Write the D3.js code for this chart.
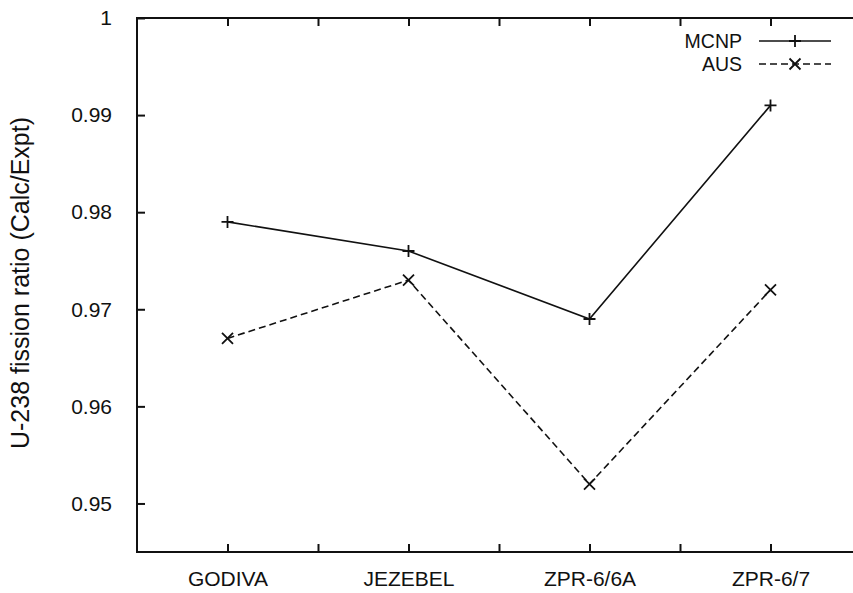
<!DOCTYPE html>
<html>
<head>
<meta charset="utf-8">
<script src="https://cdn.jsdelivr.net/npm/d3@7"></script>
<style>
  body { margin: 0; background: #fff; }
  text { font-family: "Liberation Sans", Arial, sans-serif; fill: #111; }
</style>
</head>
<body>
<svg width="853" height="593"></svg>
<script>
var categories = ["GODIVA", "JEZEBEL", "ZPR-6/6A", "ZPR-6/7"];
var mcnp = [0.979, 0.976, 0.969, 0.991];
var aus = [0.967, 0.973, 0.952, 0.972];
var yTicks = [0.95, 0.96, 0.97, 0.98, 0.99, 1];
var yTickLabels = ["0.95", "0.96", "0.97", "0.98", "0.99", "1"];
var xMinorTicks = [1, 1.5, 2, 2.5, 3, 3.5, 4];

var svg = d3.select("svg");

var margins = { top: 18, bottom: 41, left: 137, right: -8 };
var width = 853 - margins.left - margins.right;
var height = 593 - margins.top - margins.bottom;

var xScale = d3.scaleLinear().domain([0.5, 4.5]).range([0, width]);
var yScale = d3.scaleLinear().domain([0.945, 1.0]).range([height, 0]);

var plot = svg.append("g")
  .attr("transform", "translate(" + margins.left + "," + margins.top + ")");

// frame
plot.append("rect")
  .attr("x", 0).attr("y", 0)
  .attr("width", width).attr("height", height)
  .attr("fill", "none").attr("stroke", "#111").attr("stroke-width", 2);

// axes with inward ticks, mirrored on the opposite side
var yAxis = d3.axisLeft(yScale).tickValues(yTicks).tickSizeInner(-8).tickSizeOuter(0)
  .tickFormat(function(d, i) { return yTickLabels[i]; }).tickPadding(25);
var yAxisR = d3.axisRight(yScale).tickValues(yTicks).tickSizeInner(-8).tickSizeOuter(0)
  .tickFormat("");
var xAxis = d3.axisBottom(xScale).tickValues(xMinorTicks).tickSizeInner(-8).tickSizeOuter(0)
  .tickFormat(function(d) { return Number.isInteger(d) ? categories[d - 1] : ""; }).tickPadding(19);
var xAxisT = d3.axisTop(xScale).tickValues(xMinorTicks).tickSizeInner(-8).tickSizeOuter(0)
  .tickFormat("");

plot.append("g").call(yAxis);
plot.append("g").attr("transform", "translate(" + width + ",0)").call(yAxisR);
plot.append("g").attr("transform", "translate(0," + height + ")").call(xAxis);
plot.append("g").call(xAxisT);

plot.selectAll(".domain").remove();
plot.selectAll(".tick line").attr("stroke", "#111").attr("stroke-width", 2);
plot.selectAll(".tick text")
  .style("font-size", "21px")
  .style("font-family", "'Liberation Sans', Arial, sans-serif")
  .style("fill", "#111");

// y axis title
svg.append("text")
  .attr("transform", "translate(29," + 283 + ") rotate(-90)")
  .attr("text-anchor", "middle")
  .style("font-size", "25px")
  .text("U-238 fission ratio (Calc/Expt)");

var line = d3.line()
  .x(function(d, i) { return xScale(i + 1); })
  .y(function(d) { return yScale(d); });

plot.append("path").datum(mcnp)
  .attr("d", line).attr("fill", "none")
  .attr("stroke", "#111").attr("stroke-width", 1.6);

plot.append("path").datum(aus)
  .attr("d", line).attr("fill", "none")
  .attr("stroke", "#111").attr("stroke-width", 1.6)
  .attr("stroke-dasharray", "7,4");

var plus = function(g, cx, cy) {
  g.append("path")
    .attr("d", "M" + (cx - 6) + "," + cy + "H" + (cx + 6) + "M" + cx + "," + (cy - 6) + "V" + (cy + 6))
    .attr("stroke", "#111").attr("stroke-width", 1.8);
};
var cross = function(g, cx, cy) {
  g.append("path")
    .attr("d", "M" + (cx - 5.5) + "," + (cy - 5.5) + "L" + (cx + 5.5) + "," + (cy + 5.5) +
               "M" + (cx - 5.5) + "," + (cy + 5.5) + "L" + (cx + 5.5) + "," + (cy - 5.5))
    .attr("stroke", "#111").attr("stroke-width", 1.8);
};

mcnp.forEach(function(d, i) { plus(plot, xScale(i + 1), yScale(d)); });
aus.forEach(function(d, i) { cross(plot, xScale(i + 1), yScale(d)); });

// legend
var legend = svg.append("g");
var legendRows = [
  { name: "MCNP", y: 41, dash: null, mark: plus },
  { name: "AUS", y: 64, dash: "7,4", mark: cross }
];
legendRows.forEach(function(r) {
  legend.append("text")
    .attr("x", 742).attr("y", r.y).attr("dy", "0.36em")
    .attr("text-anchor", "end")
    .style("font-size", "19.5px")
    .text(r.name);
  legend.append("line")
    .attr("x1", 759).attr("x2", 831).attr("y1", r.y).attr("y2", r.y)
    .attr("stroke", "#111").attr("stroke-width", 1.4)
    .attr("stroke-dasharray", r.dash);
  r.mark(legend, 795, r.y);
});
</script>
</body>
</html>
